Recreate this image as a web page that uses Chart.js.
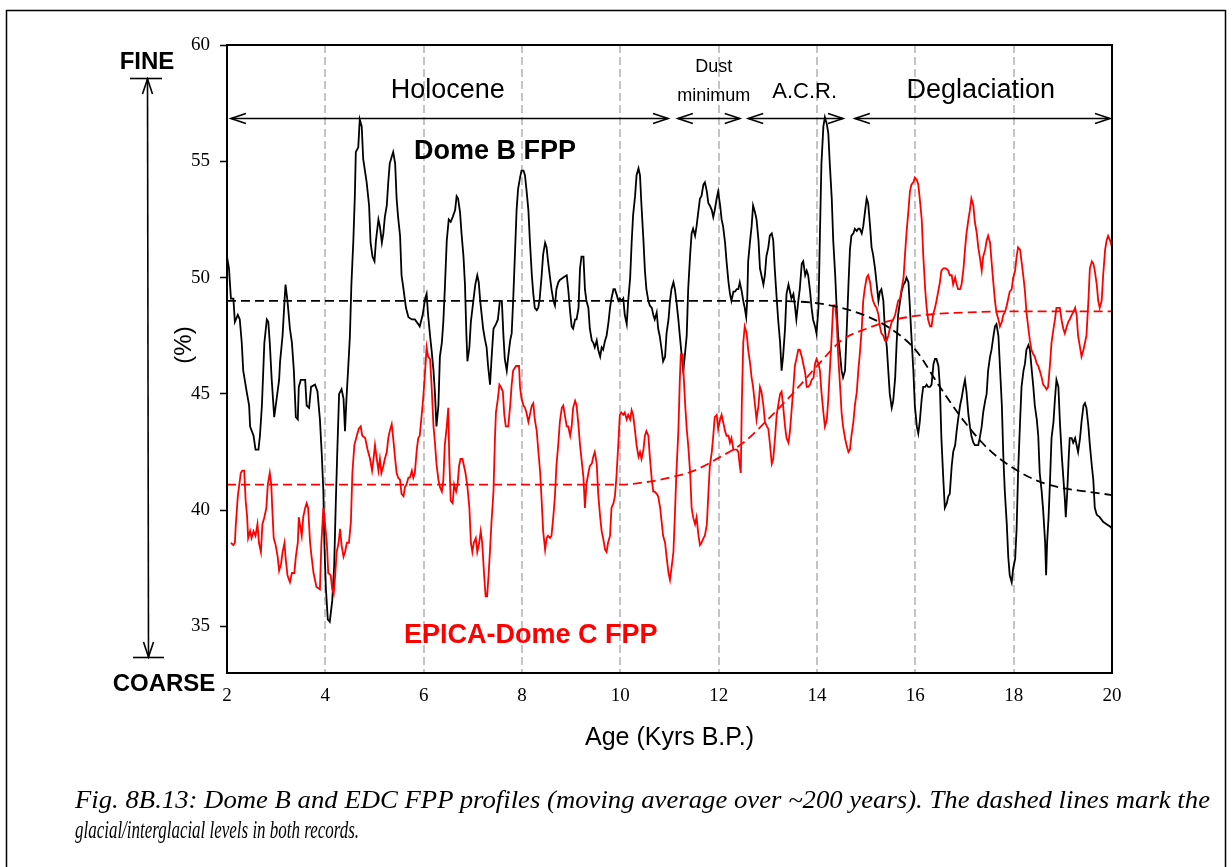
<!DOCTYPE html>
<html>
<head>
<meta charset="utf-8">
<script src="https://cdn.jsdelivr.net/npm/chart.js@4.4.0/dist/chart.umd.min.js"></script>
<style>
html, body { margin: 0; padding: 0; background: #fff; }
#wrap { position: relative; width: 1232px; height: 867px; overflow: hidden; }
#chart { position: absolute; left: 0; top: 0; }
.cap { position: absolute; left: 75px; font-family: "Liberation Serif", "Times New Roman", serif;
       font-style: italic; font-size: 26px; white-space: nowrap; transform-origin: 0 50%; line-height: 30px; }
</style>
</head>
<body>
<div id="wrap">
  <canvas id="chart" width="1232" height="867"></canvas>
  <div class="cap" id="cap1" style="top:785px">Fig. 8B.13: Dome B and EDC FPP profiles (moving average over ~200 years). The dashed lines mark the</div>
  <div class="cap" id="cap2" style="top:815px">glacial/interglacial levels in both records.</div>
</div>
<script>
// age (kyr B.P.), FPP (%)
const domeB = [
  [2.00,50.9],[2.04,50.4],[2.08,49.1],[2.13,49.1],[2.16,48.1],[2.22,48.4],[2.26,48.2],[2.30,47.2],[2.33,46.0],[2.40,45.1],
  [2.45,44.5],[2.47,43.6],[2.54,43.2],[2.58,42.6],[2.64,42.6],[2.67,43.2],[2.71,44.5],[2.76,47.2],[2.81,48.2],[2.84,48.1],
  [2.87,47.2],[2.91,45.6],[2.96,44.0],[3.01,44.8],[3.06,45.6],[3.08,46.4],[3.13,47.5],[3.17,49.0],[3.19,49.7],[3.23,49.0],
  [3.28,47.8],[3.32,47.2],[3.36,46.0],[3.40,44.0],[3.44,43.9],[3.46,45.3],[3.50,45.6],[3.59,45.6],[3.62,44.5],[3.67,44.4],
  [3.71,45.3],[3.79,45.4],[3.84,45.1],[3.89,43.9],[3.93,42.3],[3.96,40.8],[3.98,38.6],[4.01,36.7],[4.05,35.3],[4.09,35.2],
  [4.14,36.1],[4.18,37.6],[4.21,40.1],[4.24,42.3],[4.28,45.0],[4.33,45.2],[4.37,44.8],[4.40,43.4],[4.43,44.8],[4.47,46.3],
  [4.50,47.5],[4.53,49.7],[4.57,51.6],[4.60,53.5],[4.62,55.4],[4.67,55.6],[4.70,56.8],[4.74,56.5],[4.77,55.1],[4.84,54.1],
  [4.89,53.1],[4.92,51.5],[4.96,50.9],[5.00,50.7],[5.03,51.6],[5.08,52.5],[5.11,52.2],[5.15,51.5],[5.18,51.9],[5.21,52.6],
  [5.25,53.1],[5.28,54.1],[5.31,54.9],[5.35,55.2],[5.38,55.4],[5.42,54.9],[5.45,53.4],[5.48,52.6],[5.52,51.8],[5.55,50.1],
  [5.59,49.5],[5.64,48.7],[5.69,48.3],[5.76,48.2],[5.82,48.2],[5.89,48.0],[5.92,47.9],[5.98,48.4],[6.03,49.1],[6.06,49.3],
  [6.09,48.4],[6.13,47.5],[6.16,46.9],[6.20,46.0],[6.23,45.0],[6.26,43.6],[6.30,44.5],[6.33,46.6],[6.37,47.2],[6.40,48.1],
  [6.43,49.5],[6.47,51.6],[6.51,52.5],[6.55,52.4],[6.59,52.6],[6.64,52.9],[6.67,53.5],[6.70,53.4],[6.74,52.8],[6.77,51.9],
  [6.81,50.9],[6.84,49.7],[6.87,47.5],[6.89,46.4],[6.93,47.0],[6.96,48.1],[7.01,49.0],[7.05,49.7],[7.09,50.1],[7.12,49.8],
  [7.15,49.0],[7.18,48.4],[7.21,47.8],[7.25,47.3],[7.28,47.0],[7.31,46.2],[7.35,45.4],[7.38,46.5],[7.42,47.8],[7.47,48.0],
  [7.51,48.2],[7.55,49.0],[7.59,49.0],[7.62,47.6],[7.65,46.5],[7.69,46.0],[7.72,46.6],[7.76,47.3],[7.79,47.6],[7.82,49.0],
  [7.86,51.2],[7.89,52.9],[7.92,53.8],[7.96,54.3],[7.99,54.6],[8.03,54.6],[8.06,54.4],[8.09,53.8],[8.13,52.9],[8.16,51.6],
  [8.20,50.1],[8.23,49.3],[8.26,48.7],[8.30,48.6],[8.33,48.7],[8.36,49.1],[8.40,50.1],[8.43,51.0],[8.47,51.5],[8.50,51.3],
  [8.53,50.7],[8.57,50.0],[8.60,49.5],[8.64,49.0],[8.67,48.8],[8.70,49.5],[8.74,49.8],[8.77,49.9],[8.84,50.0],[8.91,50.1],
  [8.94,49.5],[8.98,48.5],[9.01,47.9],[9.04,47.8],[9.08,48.2],[9.11,48.2],[9.15,48.7],[9.18,50.4],[9.21,50.9],[9.25,50.9],
  [9.28,49.5],[9.31,49.0],[9.35,48.7],[9.38,47.8],[9.42,47.3],[9.45,47.2],[9.48,47.0],[9.52,47.3],[9.55,46.9],[9.59,46.6],
  [9.62,47.0],[9.65,46.9],[9.69,47.3],[9.72,47.5],[9.76,48.1],[9.79,48.7],[9.82,49.1],[9.86,49.5],[9.89,49.5],[9.92,49.3],
  [9.96,49.0],[9.99,49.1],[10.03,49.0],[10.06,49.1],[10.09,48.4],[10.13,48.0],[10.16,49.0],[10.20,50.0],[10.23,51.5],[10.26,52.7],
  [10.30,53.5],[10.33,54.4],[10.37,54.7],[10.40,54.4],[10.43,53.1],[10.47,51.6],[10.50,50.3],[10.53,49.5],[10.57,49.0],[10.60,48.8],
  [10.64,48.7],[10.67,48.4],[10.70,48.2],[10.74,48.5],[10.77,47.8],[10.80,47.5],[10.84,46.9],[10.87,46.4],[10.91,46.6],[10.94,47.6],
  [10.98,48.2],[11.01,49.0],[11.04,49.5],[11.08,49.8],[11.11,49.5],[11.14,49.0],[11.18,48.2],[11.21,47.5],[11.25,46.6],[11.28,46.0],
  [11.31,46.6],[11.35,47.5],[11.38,49.5],[11.42,51.0],[11.45,51.9],[11.48,52.1],[11.52,51.8],[11.55,52.2],[11.59,52.9],[11.62,53.4],
  [11.65,53.5],[11.69,54.0],[11.72,54.1],[11.76,53.7],[11.79,53.2],[11.82,53.1],[11.86,52.9],[11.89,52.6],[11.92,52.9],[11.96,53.4],
  [11.99,53.7],[12.03,53.1],[12.06,52.5],[12.09,52.2],[12.13,51.5],[12.16,50.7],[12.20,49.8],[12.23,49.3],[12.26,49.0],[12.30,49.4],
  [12.33,49.4],[12.37,49.5],[12.40,49.5],[12.43,49.8],[12.47,49.4],[12.50,49.0],[12.53,48.7],[12.56,48.3],[12.58,49.0],[12.60,50.7],
  [12.64,51.6],[12.67,52.2],[12.70,53.1],[12.74,52.8],[12.77,52.5],[12.81,51.6],[12.84,50.4],[12.87,50.1],[12.91,49.7],[12.94,50.1],
  [12.97,50.9],[13.01,51.3],[13.04,51.8],[13.08,51.9],[13.11,51.6],[13.14,50.4],[13.18,49.1],[13.21,48.2],[13.25,47.2],[13.28,46.0],
  [13.31,46.6],[13.35,47.8],[13.38,49.3],[13.42,49.7],[13.45,49.4],[13.48,49.1],[13.52,49.3],[13.55,48.8],[13.58,48.2],[13.62,49.0],
  [13.65,49.5],[13.69,50.6],[13.72,50.7],[13.76,50.1],[13.79,50.3],[13.82,50.1],[13.86,49.4],[13.89,48.7],[13.92,48.2],[13.96,47.9],
  [13.99,47.6],[14.03,48.7],[14.06,51.9],[14.09,54.9],[14.13,56.5],[14.16,56.9],[14.20,56.6],[14.23,56.2],[14.26,54.9],[14.30,53.4],
  [14.33,51.6],[14.37,50.1],[14.40,48.7],[14.43,47.5],[14.47,46.7],[14.50,46.0],[14.53,45.7],[14.57,46.0],[14.60,47.5],[14.64,49.7],
  [14.67,51.2],[14.70,51.8],[14.74,51.9],[14.77,52.1],[14.81,52.0],[14.84,52.1],[14.87,52.1],[14.91,51.9],[14.94,52.2],[14.98,52.9],
  [15.01,53.4],[15.04,53.2],[15.08,52.2],[15.11,51.3],[15.14,51.0],[15.18,50.4],[15.21,49.8],[15.25,49.0],[15.28,49.4],[15.31,49.5],
  [15.35,49.0],[15.38,47.8],[15.42,47.0],[15.45,46.0],[15.48,45.0],[15.52,44.4],[15.55,44.7],[15.59,45.7],[15.62,47.2],[15.65,48.4],
  [15.69,49.0],[15.72,49.4],[15.76,49.7],[15.79,49.8],[15.82,50.0],[15.86,49.8],[15.89,48.7],[15.92,47.5],[15.96,46.0],[15.99,44.5],
  [16.03,43.6],[16.06,43.3],[16.09,43.8],[16.13,44.8],[16.16,45.3],[16.20,45.3],[16.23,45.4],[16.26,45.3],[16.30,45.3],[16.33,45.4],
  [16.37,46.3],[16.40,46.5],[16.43,46.5],[16.47,46.2],[16.50,45.3],[16.53,43.1],[16.57,41.3],[16.60,40.1],[16.64,40.3],[16.67,40.6],
  [16.70,40.7],[16.74,41.9],[16.77,42.5],[16.81,42.8],[16.84,43.4],[16.87,43.9],[16.91,44.5],[16.94,44.8],[16.98,45.3],[17.01,45.6],
  [17.04,45.1],[17.08,44.1],[17.11,43.6],[17.14,43.2],[17.18,42.9],[17.21,42.8],[17.25,42.8],[17.28,42.8],[17.31,43.1],[17.35,43.6],
  [17.38,44.2],[17.42,44.7],[17.45,45.0],[17.48,46.0],[17.52,46.6],[17.55,46.9],[17.59,47.5],[17.62,47.9],[17.65,48.0],[17.69,47.5],
  [17.72,46.2],[17.76,44.5],[17.79,42.3],[17.82,40.8],[17.86,39.4],[17.89,38.0],[17.92,37.2],[17.96,36.9],[17.99,37.5],[18.03,37.9],
  [18.06,39.2],[18.09,41.6],[18.13,43.8],[18.16,45.3],[18.20,46.0],[18.23,46.3],[18.26,46.9],[18.30,47.1],[18.33,46.9],[18.36,46.2],
  [18.40,45.3],[18.43,44.5],[18.47,43.9],[18.50,43.2],[18.53,41.6],[18.57,40.8],[18.60,40.0],[18.64,38.6],[18.66,37.2],[18.68,38.6],
  [18.71,39.7],[18.74,41.3],[18.77,43.1],[18.81,43.8],[18.84,44.8],[18.87,45.6],[18.91,45.3],[18.94,43.8],[18.98,42.3],[19.01,41.4],
  [19.04,40.5],[19.06,39.7],[19.09,40.8],[19.12,42.3],[19.14,43.1],[19.18,43.1],[19.21,42.9],[19.25,43.1],[19.28,42.8],[19.31,42.5],
  [19.35,43.1],[19.38,43.8],[19.42,44.5],[19.45,44.6],[19.48,44.4],[19.52,43.6],[19.55,42.8],[19.59,41.9],[19.62,41.3],[19.65,40.1],
  [19.69,39.8],[19.75,39.7],[19.82,39.5],[19.89,39.4],[19.96,39.3],[20.00,39.2]
];

const edc = [
  [2.08,38.6],[2.13,38.5],[2.16,38.6],[2.18,39.4],[2.22,40.6],[2.25,41.1],[2.28,41.6],[2.31,41.7],[2.35,41.7],[2.38,40.4],
  [2.41,39.7],[2.43,38.8],[2.47,39.1],[2.50,38.8],[2.54,39.1],[2.58,38.9],[2.62,39.4],[2.65,38.6],[2.69,38.2],[2.72,39.4],
  [2.76,39.7],[2.80,40.1],[2.83,41.1],[2.87,41.6],[2.90,41.1],[2.92,40.1],[2.95,38.8],[2.99,38.5],[3.03,38.0],[3.06,37.4],
  [3.10,37.7],[3.13,38.2],[3.17,38.6],[3.19,38.0],[3.23,37.2],[3.28,36.9],[3.32,37.3],[3.37,37.3],[3.40,38.0],[3.44,38.6],
  [3.46,39.7],[3.52,38.9],[3.55,39.7],[3.59,40.1],[3.62,40.3],[3.65,40.1],[3.69,38.6],[3.72,38.0],[3.76,37.3],[3.79,37.0],
  [3.82,36.7],[3.89,36.6],[3.92,38.6],[3.96,40.1],[3.99,39.5],[4.03,38.6],[4.06,37.3],[4.11,37.2],[4.14,36.6],[4.17,36.4],
  [4.20,37.2],[4.23,38.2],[4.27,38.6],[4.30,39.2],[4.33,38.5],[4.37,38.0],[4.40,38.2],[4.44,38.6],[4.48,38.6],[4.52,39.5],
  [4.55,41.6],[4.59,42.8],[4.64,43.2],[4.68,43.5],[4.72,43.6],[4.75,43.2],[4.81,43.1],[4.86,42.6],[4.91,42.2],[4.95,41.7],
  [4.98,42.2],[5.01,42.8],[5.04,42.3],[5.08,41.7],[5.11,42.2],[5.14,41.6],[5.18,41.9],[5.21,42.2],[5.25,42.5],[5.28,43.1],
  [5.31,43.4],[5.35,43.7],[5.38,43.1],[5.42,42.2],[5.45,41.6],[5.48,41.4],[5.52,41.3],[5.55,40.7],[5.59,40.6],[5.62,41.0],
  [5.65,41.1],[5.69,41.4],[5.72,41.4],[5.76,41.7],[5.79,41.4],[5.82,41.6],[5.86,42.6],[5.89,43.1],[5.92,43.2],[5.96,44.1],
  [5.99,44.8],[6.03,46.0],[6.06,47.0],[6.09,46.6],[6.13,46.5],[6.16,45.4],[6.20,43.6],[6.23,42.9],[6.26,42.0],[6.30,41.3],
  [6.33,41.0],[6.37,40.8],[6.40,41.3],[6.43,42.8],[6.47,43.6],[6.50,44.4],[6.52,42.3],[6.55,40.4],[6.59,40.3],[6.62,41.1],
  [6.66,40.8],[6.69,41.1],[6.72,41.9],[6.75,42.2],[6.79,42.2],[6.82,41.9],[6.85,41.6],[6.89,41.0],[6.93,40.1],[6.96,38.6],
  [6.99,38.2],[7.02,38.6],[7.06,38.8],[7.09,38.2],[7.13,38.6],[7.16,39.1],[7.19,38.6],[7.23,37.2],[7.26,36.3],[7.29,36.3],
  [7.32,37.2],[7.35,38.3],[7.38,39.5],[7.42,40.8],[7.45,43.1],[7.47,44.2],[7.51,44.8],[7.54,45.4],[7.57,45.3],[7.61,45.1],
  [7.64,44.1],[7.67,43.6],[7.72,43.6],[7.76,44.5],[7.79,45.4],[7.82,46.0],[7.88,46.2],[7.91,46.2],[7.94,46.2],[7.96,45.3],
  [7.99,44.8],[8.03,44.5],[8.06,44.4],[8.09,44.2],[8.13,43.8],[8.16,44.1],[8.20,44.5],[8.23,44.6],[8.26,43.9],[8.30,43.4],
  [8.33,42.6],[8.37,41.6],[8.40,40.4],[8.43,39.1],[8.47,38.3],[8.50,38.8],[8.53,38.9],[8.57,38.8],[8.60,38.9],[8.64,39.8],
  [8.67,40.6],[8.70,41.9],[8.74,42.9],[8.77,43.8],[8.81,44.4],[8.84,44.5],[8.87,44.1],[8.91,43.6],[8.94,43.6],[8.98,43.2],
  [9.01,43.6],[9.04,44.4],[9.08,44.7],[9.11,44.5],[9.15,43.6],[9.18,42.8],[9.21,42.2],[9.25,41.4],[9.28,40.1],[9.31,41.1],
  [9.35,41.6],[9.38,41.9],[9.42,42.0],[9.45,42.3],[9.48,42.5],[9.52,42.0],[9.55,40.7],[9.59,39.7],[9.62,39.1],[9.65,38.8],
  [9.69,38.3],[9.72,38.2],[9.75,38.6],[9.79,38.9],[9.82,40.1],[9.86,40.3],[9.89,40.6],[9.92,41.4],[9.96,42.9],[9.99,44.1],
  [10.02,44.2],[10.06,44.1],[10.09,44.2],[10.13,43.9],[10.16,44.1],[10.20,43.9],[10.23,44.3],[10.26,44.1],[10.30,43.4],[10.33,42.8],
  [10.37,42.3],[10.40,42.5],[10.43,42.2],[10.47,42.6],[10.50,43.2],[10.53,43.4],[10.57,43.2],[10.60,42.3],[10.64,41.3],[10.67,40.8],
  [10.70,40.8],[10.74,40.7],[10.77,40.6],[10.81,40.1],[10.84,39.5],[10.87,38.9],[10.91,38.6],[10.94,38.0],[10.98,37.3],[11.01,37.0],
  [11.04,37.5],[11.08,38.2],[11.11,39.8],[11.14,41.6],[11.18,43.4],[11.21,45.6],[11.23,46.7],[11.27,46.7],[11.29,45.7],[11.32,44.5],
  [11.35,43.5],[11.38,42.8],[11.42,41.6],[11.45,40.1],[11.48,39.7],[11.52,39.4],[11.55,39.7],[11.59,38.9],[11.62,38.5],[11.65,38.6],
  [11.69,38.8],[11.72,38.9],[11.76,39.4],[11.79,40.7],[11.82,41.9],[11.86,42.5],[11.89,43.2],[11.92,44.0],[11.96,44.1],[11.99,43.5],
  [12.03,43.9],[12.06,44.1],[12.09,43.8],[12.13,43.4],[12.16,43.2],[12.20,43.2],[12.23,42.9],[12.26,43.1],[12.30,42.6],[12.37,42.6],
  [12.40,42.5],[12.43,41.9],[12.45,41.6],[12.47,44.5],[12.50,47.2],[12.53,47.9],[12.57,47.6],[12.60,46.9],[12.64,46.3],[12.67,45.7],
  [12.70,45.3],[12.74,44.5],[12.77,43.9],[12.81,44.5],[12.84,45.3],[12.87,45.1],[12.91,44.5],[12.94,43.8],[12.98,43.6],[13.01,43.5],
  [13.04,42.9],[13.08,42.0],[13.11,42.2],[13.15,43.2],[13.18,44.1],[13.21,44.5],[13.25,45.0],[13.28,45.1],[13.31,44.5],[13.35,43.6],
  [13.38,43.1],[13.42,42.9],[13.45,43.4],[13.48,44.2],[13.52,45.3],[13.55,46.2],[13.59,46.6],[13.62,46.9],[13.65,46.9],[13.69,46.6],
  [13.72,46.3],[13.76,45.9],[13.79,45.3],[13.82,45.3],[13.86,45.4],[13.89,45.6],[13.93,45.7],[13.96,46.3],[13.99,46.5],[14.03,46.3],
  [14.06,46.0],[14.09,45.1],[14.13,44.2],[14.16,43.6],[14.20,43.9],[14.23,44.8],[14.26,46.0],[14.30,47.5],[14.33,48.8],[14.37,48.8],
  [14.40,48.1],[14.43,46.7],[14.47,45.3],[14.50,44.2],[14.53,43.6],[14.57,43.1],[14.60,42.8],[14.64,42.5],[14.67,42.6],[14.70,43.2],
  [14.74,43.8],[14.77,44.5],[14.81,45.1],[14.84,46.0],[14.87,46.7],[14.91,47.8],[14.94,49.0],[14.97,49.5],[15.01,50.0],[15.04,50.1],
  [15.08,49.8],[15.11,49.3],[15.14,49.0],[15.18,48.8],[15.21,48.7],[15.25,48.4],[15.28,47.9],[15.31,47.6],[15.35,47.5],[15.38,47.3],
  [15.42,47.3],[15.45,47.5],[15.48,47.8],[15.52,48.1],[15.55,48.2],[15.59,48.4],[15.62,48.7],[15.65,49.0],[15.69,49.1],[15.72,49.5],
  [15.76,50.0],[15.79,51.0],[15.82,51.9],[15.86,52.9],[15.89,53.7],[15.92,54.0],[15.96,54.1],[15.99,54.3],[16.03,54.2],[16.06,54.0],
  [16.09,53.4],[16.13,52.5],[16.16,51.0],[16.20,49.5],[16.23,48.7],[16.26,48.2],[16.30,47.9],[16.33,47.9],[16.36,48.4],[16.40,48.7],
  [16.43,49.0],[16.50,49.8],[16.53,50.3],[16.57,50.4],[16.62,50.4],[16.67,50.3],[16.70,50.1],[16.74,50.1],[16.77,49.7],[16.81,50.0],
  [16.84,49.7],[16.87,49.5],[16.91,49.5],[16.94,49.7],[16.98,50.4],[17.01,51.2],[17.04,51.9],[17.08,52.5],[17.11,52.9],[17.14,53.4],
  [17.18,53.1],[17.21,52.4],[17.25,51.9],[17.28,51.3],[17.31,50.9],[17.35,50.3],[17.38,50.9],[17.42,51.2],[17.45,51.6],[17.48,51.8],
  [17.52,51.5],[17.55,50.7],[17.59,49.7],[17.62,49.0],[17.65,48.5],[17.69,48.2],[17.72,47.9],[17.76,48.1],[17.79,48.4],[17.82,48.5],
  [17.86,48.8],[17.89,49.1],[17.92,49.4],[17.96,49.5],[17.99,50.0],[18.03,50.3],[18.06,50.9],[18.09,51.3],[18.13,51.2],[18.16,50.7],
  [18.20,50.0],[18.23,49.4],[18.26,48.5],[18.30,47.8],[18.33,47.3],[18.36,46.9],[18.40,46.7],[18.43,46.6],[18.47,46.3],[18.50,46.2],
  [18.53,46.0],[18.57,45.7],[18.60,45.4],[18.64,45.3],[18.67,45.2],[18.70,45.3],[18.74,46.3],[18.77,47.2],[18.81,47.8],[18.84,48.2],
  [18.87,48.7],[18.91,48.7],[18.94,48.7],[18.98,48.1],[19.01,47.8],[19.04,47.6],[19.08,47.9],[19.11,48.1],[19.14,48.2],[19.18,48.4],
  [19.21,48.5],[19.25,48.7],[19.28,48.4],[19.31,47.5],[19.35,47.0],[19.38,46.6],[19.42,46.9],[19.45,47.2],[19.48,47.5],[19.52,49.0],
  [19.55,50.4],[19.59,50.7],[19.62,50.6],[19.65,50.3],[19.69,49.7],[19.72,49.0],[19.75,48.7],[19.79,49.0],[19.82,50.1],[19.86,51.2],
  [19.89,51.6],[19.92,51.8],[19.96,51.6],[20.00,51.3]
];

// glacial / interglacial levels (dashed)
const domeBLevel = [[2,49.0],[13,49.0],[13.5,48.98],[14,48.9],[14.5,48.7],[15,48.35],[15.5,47.8],[16,46.9],
  [16.5,45.3],[17,43.8],[17.5,42.6],[18,41.8],[18.5,41.25],[19,40.95],[19.5,40.8],[20,40.65]];
const edcLevel = [[2,41.1],[10,41.1],[10.5,41.2],[11,41.4],[11.5,41.7],[12,42.25],[12.5,42.9],[13,43.9],
  [13.5,45.0],[14,46.2],[14.5,47.3],[15,47.8],[15.5,48.15],[16,48.35],[16.5,48.45],[17,48.5],[18,48.55],[20,48.55]];

const ageTicks = [2, 4, 6, 8, 10, 12, 14, 16, 18, 20];
const pctTicks = [35, 40, 45, 50, 55, 60];

// period bars across the top (ages)
const periods = [
  { from: 2.08, to: 10.97 },
  { from: 11.17, to: 12.43 },
  { from: 12.60, to: 14.53 },
  { from: 14.77, to: 19.96 }
];
const periodLevel = 56.85;

const notes = [
  { text: 'Holocene', age: 6.49, pct: 58.06, font: '27px "Liberation Sans", Arial', color: '#000' },
  { text: 'Dust', age: 11.90, pct: 59.05, font: '18px "Liberation Sans", Arial', color: '#000' },
  { text: 'minimum', age: 11.90, pct: 57.80, font: '18px "Liberation Sans", Arial', color: '#000' },
  { text: 'A.C.R.', age: 13.75, pct: 57.98, font: '22px "Liberation Sans", Arial', color: '#000' },
  { text: 'Deglaciation', age: 17.33, pct: 58.06, font: '27px "Liberation Sans", Arial', color: '#000' },
  { text: 'Dome B FPP', age: 7.45, pct: 55.40, font: 'bold 27px "Liberation Sans", Arial', color: '#000' },
  { text: 'EPICA-Dome C FPP', age: 8.18, pct: 34.60, font: 'bold 27px "Liberation Sans", Arial', color: '#ff0000' }
];

const toXY = arr => arr.map(p => ({ x: p[0], y: p[1] }));

function head(ctx, tx, ty, dx, dy) {
  const len = 15, half = 5;
  const bx = tx - dx * len, by = ty - dy * len;
  ctx.beginPath();
  ctx.moveTo(bx - dy * half, by + dx * half);
  ctx.lineTo(tx, ty);
  ctx.lineTo(bx + dy * half, by - dx * half);
  ctx.stroke();
}

const decor = {
  id: 'decor',
  afterDraw(chart) {
    const { ctx, chartArea: a, scales: { x, y } } = chart;
    ctx.save();
    ctx.strokeStyle = '#000';
    ctx.fillStyle = '#000';

    // plot box
    ctx.lineWidth = 2;
    ctx.strokeRect(a.left, a.top, a.right - a.left, a.bottom - a.top);

    // outer frame
    ctx.lineWidth = 1.5;
    ctx.beginPath();
    ctx.moveTo(6.5, 875); ctx.lineTo(6.5, 10.5); ctx.lineTo(1225.5, 10.5); ctx.lineTo(1225.5, 875);
    ctx.stroke();

    // period arrows
    ctx.lineWidth = 1.6;
    const ay = Math.round(y.getPixelForValue(periodLevel)) + 0.5;
    periods.forEach(p => {
      const x1 = x.getPixelForValue(p.from), x2 = x.getPixelForValue(p.to);
      ctx.beginPath(); ctx.moveTo(x1, ay); ctx.lineTo(x2, ay); ctx.stroke();
      head(ctx, x1, ay, -1, 0);
      head(ctx, x2, ay, 1, 0);
    });

    // annotations
    ctx.textAlign = 'center';
    ctx.textBaseline = 'middle';
    notes.forEach(n => {
      ctx.font = n.font;
      ctx.fillStyle = n.color;
      ctx.fillText(n.text, x.getPixelForValue(n.age), y.getPixelForValue(n.pct));
    });

    // axis titles
    ctx.fillStyle = '#000';
    ctx.font = '25px "Liberation Sans", Arial';
    ctx.fillText('Age (Kyrs B.P.)', (a.left + a.right) / 2, 738);
    ctx.save();
    ctx.translate(184, 345);
    ctx.rotate(-Math.PI / 2);
    ctx.font = '24px "Liberation Sans", Arial';
    ctx.fillText('(%)', 0, 0);
    ctx.restore();

    // FINE / COARSE scale arrow
    ctx.lineWidth = 1.6;
    ctx.beginPath(); ctx.moveTo(147.5, 79); ctx.lineTo(148.5, 657); ctx.stroke();
    head(ctx, 147.5, 79, 0, -1);
    head(ctx, 148.5, 657, 0, 1);
    ctx.beginPath(); ctx.moveTo(130, 78.5); ctx.lineTo(162, 78.5); ctx.stroke();
    ctx.beginPath(); ctx.moveTo(133, 657.5); ctx.lineTo(164, 657.5); ctx.stroke();
    ctx.font = 'bold 24px "Liberation Sans", Arial';
    ctx.fillText('FINE', 147, 62);
    ctx.fillText('COARSE', 164, 684);

    ctx.restore();
  }
};

new Chart(document.getElementById('chart'), {
  type: 'line',
  data: {
    datasets: [
      { label: 'Dome B level', data: toXY(domeBLevel), borderColor: '#000', borderWidth: 1.8,
        borderDash: [9, 5], cubicInterpolationMode: 'monotone', order: 0 },
      { label: 'EDC level', data: toXY(edcLevel), borderColor: '#ff0000', borderWidth: 1.8,
        borderDash: [9, 5], cubicInterpolationMode: 'monotone', order: 1 },
      { label: 'Dome B FPP', data: toXY(domeB), borderColor: '#000', borderWidth: 1.8, order: 3 },
      { label: 'EPICA-Dome C FPP', data: toXY(edc), borderColor: '#ff0000', borderWidth: 1.8, order: 2 }
    ]
  },
  options: {
    responsive: false,
    animation: false,
    devicePixelRatio: 1,
    events: [],
    elements: { point: { radius: 0 }, line: { tension: 0 } },
    layout: { padding: { left: 0, top: 45, right: 120, bottom: 0 } },
    plugins: { legend: { display: false }, tooltip: { enabled: false } },
    scales: {
      x: {
        type: 'linear', min: 2, max: 20,
        afterFit: s => { s.height = 194; },
        afterBuildTicks: s => { s.ticks = ageTicks.map(v => ({ value: v })); },
        grid: {
          drawTicks: false,
          lineWidth: 2,
          color: c => (c.tick && (c.tick.value === 2 || c.tick.value === 20)) ? 'rgba(0,0,0,0)' : '#c4c4c4'
        },
        border: { display: false, dash: [8, 4] },
        ticks: { color: '#000', padding: 12, maxRotation: 0,
                 font: { family: '"Liberation Serif", "Times New Roman", serif', size: 19 } }
      },
      y: {
        type: 'linear', min: 33, max: 60,
        afterFit: s => { s.width = 227; },
        afterBuildTicks: s => { s.ticks = pctTicks.map(v => ({ value: v })); },
        grid: { drawOnChartArea: false, drawTicks: true, tickLength: 7, tickColor: '#000', tickWidth: 1.5 },
        border: { display: false },
        ticks: { color: '#000', padding: 10,
                 font: { family: '"Liberation Serif", "Times New Roman", serif', size: 19 } }
      }
    }
  },
  plugins: [decor]
});

// caption: each line is fitted to the width it takes in the figure
const fit = (el, w) => { el.style.transform = 'scaleX(' + (w / el.getBoundingClientRect().width) + ')'; };
fit(document.getElementById('cap1'), 1135);
fit(document.getElementById('cap2'), 284);
</script>
</body>
</html>
